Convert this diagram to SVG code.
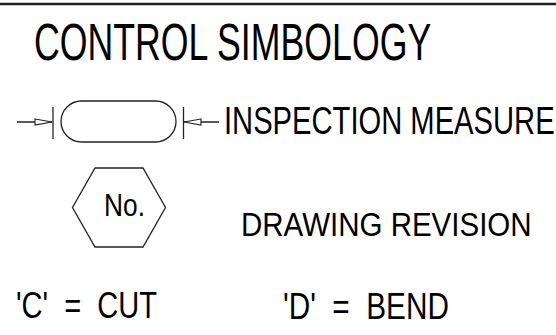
<svg xmlns="http://www.w3.org/2000/svg" width="556" height="335" viewBox="0 0 556 335">
<style>
.t{font-family:"Liberation Sans",Arial,sans-serif;fill:#000}
.s{fill:none;stroke:#222;stroke-width:1.3}
.ah{fill:#fff;stroke:#222;stroke-width:1.1}
</style>
<rect x="0" y="0" width="556" height="335" fill="#fff"/>
<line x1="0" y1="4" x2="556" y2="4" stroke="#1e1e24" stroke-width="2.6"/>
<g id="title">
<text class="t" transform="translate(34,59.5) scale(0.7,1)" font-size="51">CONTROL SIMBOLOGY</text>
</g>
<g id="inspection-symbol">
<rect class="s" x="61" y="101" width="115" height="41" rx="20.5" ry="20.5"/>
<line class="s" x1="53" y1="107" x2="53" y2="139"/>
<line class="s" x1="183.5" y1="107" x2="183.5" y2="139"/>
</g>
<g id="connectors">
<line class="s" x1="17" y1="122" x2="52" y2="122"/>
<polygon class="ah" points="35,119 52,122 35,125"/>
<line class="s" x1="184" y1="122" x2="219" y2="122"/>
<polygon class="ah" points="201,119 184,122 201,125"/>
</g>
<g id="inspection-label">
<text class="t" transform="translate(224,134) scale(0.768,1)" font-size="38">INSPECTION MEASURE</text>
</g>
<g id="revision-symbol">
<polygon class="s" points="95,168 143,168 165.5,207.5 143,247 95,247 72.5,207.5"/>
<text class="t" transform="translate(104,216) scale(0.823,1)" font-size="32">No.</text>
</g>
<g id="revision-label">
<text class="t" transform="translate(241,236) scale(0.881,1)" font-size="33.5">DRAWING REVISION</text>
</g>
<g id="cut-label">
<text class="t" transform="translate(16,318) scale(0.796,1)" font-size="36.5" xml:space="preserve">'C'  =  CUT</text>
</g>
<g id="bend-label">
<text class="t" transform="translate(283,319) scale(0.815,1)" font-size="36.5" xml:space="preserve">'D'  =  BEND</text>
</g>
</svg>
